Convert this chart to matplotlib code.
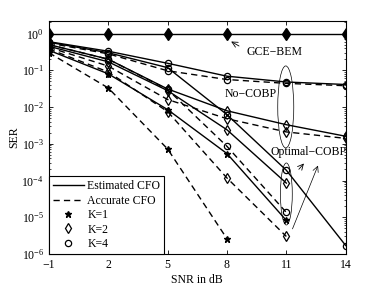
import matplotlib
matplotlib.use("Agg")
import matplotlib.pyplot as plt
from matplotlib.lines import Line2D
from matplotlib.patches import Ellipse
from matplotlib.ticker import LogLocator, NullFormatter, FixedLocator

plt.rcParams['font.family'] = ['Liberation Serif', 'DejaVu Serif']
plt.rcParams['mathtext.fontset'] = 'stix'

snr = [-1, 2, 5, 8, 11, 14]
snr_to11 = [-1, 2, 5, 8, 11]
snr_to8 = [-1, 2, 5, 8]

gce_bem = [0.95, 0.95, 0.95, 0.95, 0.95, 0.95]

k1_est = [0.35, 0.08, 0.0085, 5.4e-4, 8.2e-6]
k1_acc = [0.30, 0.033, 7.2e-4, 2.6e-6]

k2_no_est = [0.5, 0.2, 0.031, 7.9e-3, 3.3e-3, 1.6e-3]
k2_no_acc = [0.42, 0.13, 0.016, 4.8e-3, 2.1e-3, 1.4e-3]
k2_opt_est = [0.45, 0.17, 0.028, 2.4e-3, 8.5e-5]
k2_opt_acc = [0.38, 0.09, 7.5e-3, 1.17e-4, 3.0e-6]

k4_no_est = [0.6, 0.33, 0.155, 0.069, 0.048, 0.041]
k4_no_acc = [0.55, 0.28, 0.097, 0.056, 0.044, 0.038]
k4_opt_est = [0.58, 0.3, 0.118, 6.2e-3, 1.9e-4, 1.7e-6]
k4_opt_acc = [0.5, 0.2, 0.03, 8.5e-4, 1.35e-5]

xticks = [-1, 2, 5, 8, 11, 14]

fig = plt.figure(figsize=(3.82, 2.87), dpi=100)
ax = fig.add_axes([0.128, 0.115, 0.777, 0.812])

lw = 1.0
ms = 4.5
dash = (0, (4.5, 3))
kw_o = dict(marker='o', mfc='none', mec='k', ms=ms, color='k', lw=lw, mew=0.9)
kw_d = dict(marker='d', mfc='none', mec='k', ms=ms + 0.8, color='k', lw=lw, mew=0.9)
kw_s = dict(marker='*', mfc='k', mec='k', ms=ms + 0.5, color='k', lw=lw)

ax.plot(snr, gce_bem, marker='d', mfc='k', mec='k', ms=6, color='k', lw=lw)

ax.plot(snr_to11, k1_est, ls='-', **kw_s)
ax.plot(snr_to8, k1_acc, ls=dash, **kw_s)

ax.plot(snr, k2_no_est, ls='-', **kw_d)
ax.plot(snr, k2_no_acc, ls=dash, **kw_d)
ax.plot(snr_to11, k2_opt_est, ls='-', **kw_d)
ax.plot(snr_to11, k2_opt_acc, ls=dash, **kw_d)

ax.plot(snr, k4_no_est, ls='-', **kw_o)
ax.plot(snr, k4_no_acc, ls=dash, **kw_o)
ax.plot(snr, k4_opt_est, ls='-', **kw_o)
ax.plot(snr_to11, k4_opt_acc, ls=dash, **kw_o)

ax.set_yscale('log')
ax.set_xlim(-1, 14)
ax.set_ylim(1e-6, 2.2)
ax.set_xticks(xticks)
ax.set_xticklabels([str(v).replace('-', '\u2212') for v in xticks])
ax.yaxis.set_major_locator(FixedLocator([1e-6, 1e-5, 1e-4, 1e-3, 1e-2, 1e-1, 1e0]))
ax.yaxis.set_minor_locator(LogLocator(base=10, subs=range(2, 10), numticks=20))
ax.yaxis.set_minor_formatter(NullFormatter())
ax.tick_params(which='both', direction='in', top=True, right=True, labelsize=8.5)
ax.tick_params(which='major', length=3, width=0.6)
ax.tick_params(which='minor', length=1.6, width=0.5)
for s in ax.spines.values():
    s.set_linewidth(0.8)

ax.set_xlabel('SNR in dB', fontsize=8.5, labelpad=2)
ax.set_ylabel('SER', fontsize=8.5, labelpad=1)

# annotations
ax.annotate('', xy=(8.09, 0.66), xytext=(8.73, 0.42),
            arrowprops=dict(arrowstyle='->', color='k', lw=0.6))
ax.text(9.0, 0.32, 'GCE\u2212BEM', fontsize=8.5, ha='left', va='center')
ax.text(9.2, 0.0228, 'No\u2212COBP', fontsize=8.5, ha='center', va='center')
ax.text(12.13, 5.8e-4, 'Optimal\u2212COBP', fontsize=8.5, ha='center', va='center')

ax.add_patch(Ellipse((0.798, 0.631), 0.054, 0.352, transform=ax.transAxes,
                     fill=False, ec='k', lw=0.5))
ax.add_patch(Ellipse((0.80, 0.2575), 0.040, 0.266, transform=ax.transAxes,
                     fill=False, ec='k', lw=0.5))

def px2data(px, py):
    return (-1 + (px - 49) / 19.8, 10 ** (-(py - 34) / 36.7))

ax.annotate('', xy=px2data(306, 161.7), xytext=px2data(297.3, 171.7),
            arrowprops=dict(arrowstyle='->', color='k', lw=0.6))
ax.annotate('', xy=px2data(319.3, 163.3), xytext=px2data(291.7, 231.7),
            arrowprops=dict(arrowstyle='->', color='k', lw=0.5))

handles = [
    Line2D([], [], color='k', lw=lw, ls='-'),
    Line2D([], [], color='k', lw=lw, ls=dash),
    Line2D([], [], ls='none', marker='*', mfc='k', mec='k', ms=ms + 0.5),
    Line2D([], [], ls='none', marker='d', mfc='none', mec='k', ms=ms + 0.8, mew=0.9),
    Line2D([], [], ls='none', marker='o', mfc='none', mec='k', ms=ms, mew=0.9),
]
labels = ['Estimated CFO', 'Accurate CFO', 'K=1', 'K=2', 'K=4']
leg = ax.legend(handles, labels, loc='lower left', fontsize=8.5, frameon=True,
                fancybox=False, framealpha=1, edgecolor='k', borderaxespad=0,
                handlelength=2.6, labelspacing=0.2, borderpad=0.35, handletextpad=0.3)
leg.get_frame().set_linewidth(0.8)

fig.savefig('out.png', dpi=100)
